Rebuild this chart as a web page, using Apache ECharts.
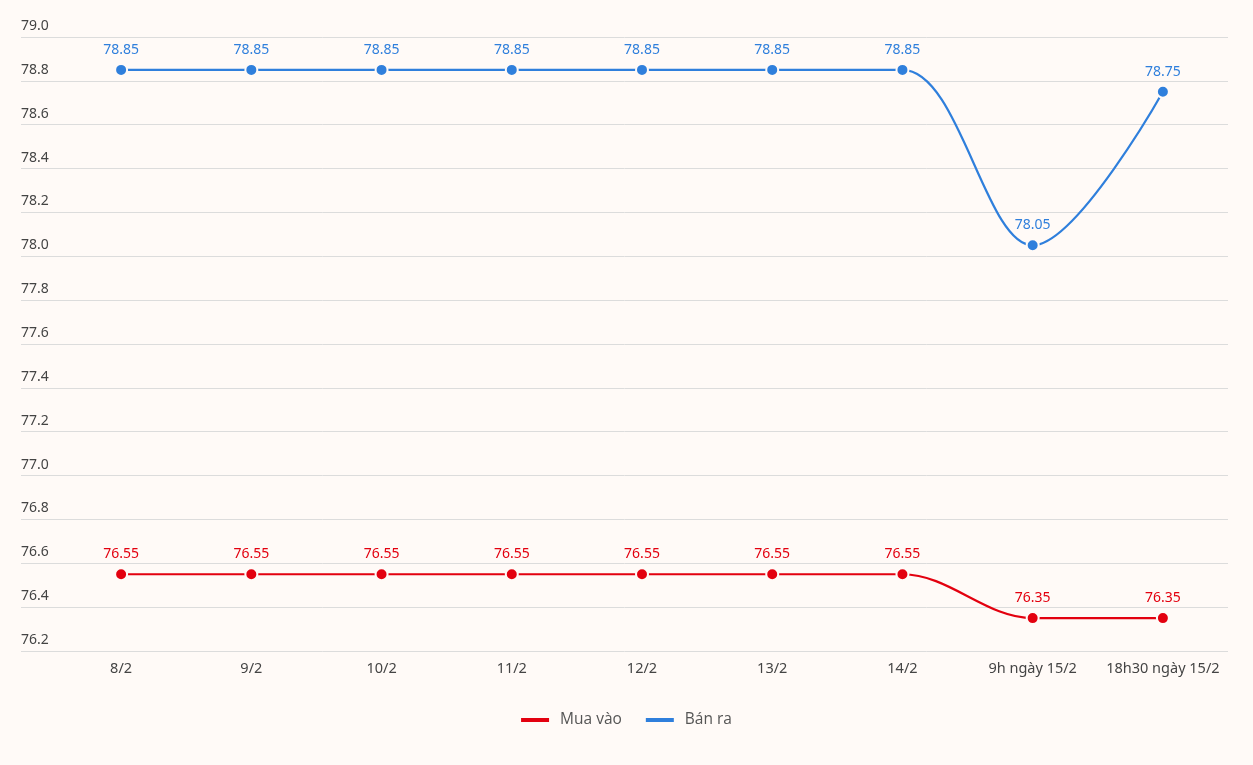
<!DOCTYPE html>
<html>
<head>
<meta charset="utf-8">
<script src="https://cdn.jsdelivr.net/npm/echarts@6/dist/echarts.min.js"></script>
<style>
html,body{margin:0;padding:0;background:#fffaf7;}
#c{width:1253px;height:765px;}
</style>
</head>
<body>
<div id="c"></div>
<script>
const categories = ["8/2","9/2","10/2","11/2","12/2","13/2","14/2","9h ngày 15/2","18h30 ngày 15/2"];
const muaVao = [76.55,76.55,76.55,76.55,76.55,76.55,76.55,76.35,76.35];
const banRa = [78.85,78.85,78.85,78.85,78.85,78.85,78.85,78.05,78.75];
const yMin = 76.2, yMax = 79.0, yStep = 0.2;

const chart = echarts.init(document.getElementById('c'));
const font = "'Noto Sans', sans-serif";
const bg = '#fffaf7';
chart.setOption({
  backgroundColor: bg,
  animation: false,
  legend: {
    bottom: 32, left: 'center',
    itemWidth: 28, itemHeight: 4, itemGap: 24,
    icon: 'rect',
    lineStyle: {width: 4},
    itemStyle: {borderWidth: 0},
    textStyle: {fontFamily: "'Open Sans', sans-serif", fontSize: 15.5, color: '#555', padding: [0,0,0,6]},
    data: ['Mua vào','Bán ra']
  },
  grid: [
    {left: 21, right: 25, top: 37, bottom: 114},
    {left: 56, right: 25, top: 37, bottom: 114}
  ],
  xAxis: [
    {gridIndex: 0, type: 'category', data: categories, show: false},
    {gridIndex: 1, type: 'category', data: categories, boundaryGap: true,
     axisLine: {show: false}, axisTick: {show: false},
     axisLabel: {color: '#444', fontFamily: font, fontSize: 14.5, margin: 10, interval: 0}}
  ],
  yAxis: [
    {gridIndex: 0, type: 'value', min: yMin, max: yMax, interval: yStep,
     axisLine: {show: false}, axisTick: {show: false},
     splitLine: {lineStyle: {color: '#dcdcdc', width: 1}},
     axisLabel: {inside: true, margin: 0, verticalAlign: 'bottom', align: 'left',
       padding: [0,0,4,0], color: '#444', fontFamily: font, fontSize: 14,
       formatter: v => v.toFixed(1)}},
    {gridIndex: 1, type: 'value', min: yMin, max: yMax, interval: yStep, show: false,
     splitLine: {show: false}}
  ],
  series: [
    {name: 'Mua vào', type: 'line', xAxisIndex: 1, yAxisIndex: 1, data: muaVao,
     smooth: 0.35, color: '#e3000f', symbol: 'circle', symbolSize: 12,
     lineStyle: {width: 2.2, color: '#e3000f'},
     itemStyle: {color: '#e3000f', borderColor: bg, borderWidth: 2},
     label: {show: true, position: 'top', distance: 6, color: '#e3000f', fontFamily: font, fontSize: 14,
       formatter: p => p.value.toFixed(2)}},
    {name: 'Bán ra', type: 'line', xAxisIndex: 1, yAxisIndex: 1, data: banRa,
     smooth: 0.35, color: '#2f7fdc', symbol: 'circle', symbolSize: 12,
     lineStyle: {width: 2.2, color: '#2f7fdc'},
     itemStyle: {color: '#2f7fdc', borderColor: bg, borderWidth: 2},
     label: {show: true, position: 'top', distance: 6, color: '#2f7fdc', fontFamily: font, fontSize: 14,
       formatter: p => p.value.toFixed(2)}}
  ]
});
</script>
</body>
</html>
